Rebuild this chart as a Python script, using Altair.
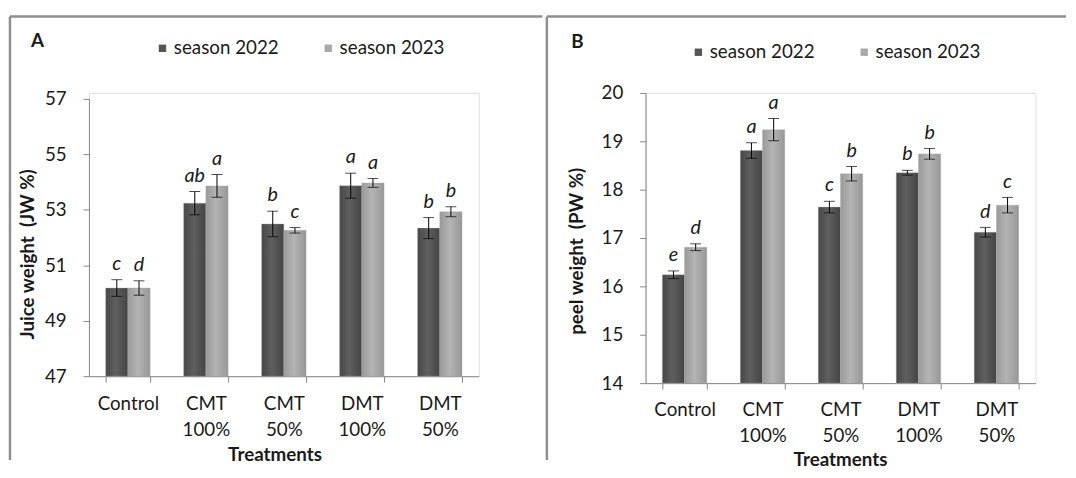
import altair as alt
import pandas as pd

treatments = ["Control", "CMT 100%", "CMT 50%", "DMT 100%", "DMT 50%"]
seasons = ["season 2022", "season 2023"]

# Panel A: juice weight (JW %)
jw_2022 = [50.18, 53.24, 52.49, 53.87, 52.34]
jw_2022_err = [0.30, 0.42, 0.46, 0.45, 0.38]
jw_2022_letters = ["c", "ab", "b", "a", "b"]
jw_2023 = [50.18, 53.86, 52.26, 53.97, 52.93]
jw_2023_err = [0.26, 0.41, 0.10, 0.16, 0.18]
jw_2023_letters = ["d", "a", "c", "a", "b"]
jw_ticks = [47, 49, 51, 53, 55, 57]

# Panel B: peel weight (PW %)
pw_2022 = [16.24, 18.81, 17.64, 18.35, 17.12]
pw_2022_err = [0.08, 0.16, 0.12, 0.05, 0.10]
pw_2022_letters = ["e", "a", "c", "b", "d"]
pw_2023 = [16.81, 19.24, 18.33, 18.74, 17.68]
pw_2023_err = [0.07, 0.23, 0.15, 0.11, 0.16]
pw_2023_letters = ["d", "a", "b", "b", "c"]
pw_ticks = [14, 15, 16, 17, 18, 19, 20]

FONT = "Lato"
FRAME = "#8f8f8f"
AXIS = "#868686"
TXT = "#1a1a1a"

grad = {
    "season 2022": alt.LinearGradient(
        gradient="linear", x1=0, x2=1, y1=0, y2=0,
        stops=[alt.GradientStop(color="#474747", offset=0),
               alt.GradientStop(color="#5f5f5f", offset=0.45),
               alt.GradientStop(color="#444444", offset=1)]),
    "season 2023": alt.LinearGradient(
        gradient="linear", x1=0, x2=1, y1=0, y2=0,
        stops=[alt.GradientStop(color="#9a9a9a", offset=0),
               alt.GradientStop(color="#b4b4b4", offset=0.45),
               alt.GradientStop(color="#979797", offset=1)]),
}


def make_df(v22, e22, l22, v23, e23, l23, base):
    rows = []
    for i, t in enumerate(treatments):
        rows.append(dict(treatment=t, season=seasons[0], value=v22[i], err=e22[i], letter=l22[i], base=base))
        rows.append(dict(treatment=t, season=seasons[1], value=v23[i], err=e23[i], letter=l23[i], base=base))
    df = pd.DataFrame(rows)
    df["lo"] = df["value"] - df["err"]
    df["hi"] = df["value"] + df["err"]
    return df


def panel(df, ymin, ymax, yvals, height, rng, ytitle, ytitle_x, ytitle_y,
          xtitle_x, xtitle_y, xlabel_pad, letter, letter_x, letter_y, legend_x, legend_y,
          frame_left, frame_right, frame_top, frame_bottom):
    xaxis = alt.Axis(
        title="Treatments", labelAngle=0, labelExpr="split(datum.label, ' ')",
        labelBaseline="top", labelPadding=xlabel_pad, labelLineHeight=26, labelFontSize=19,
        labelFont=FONT, labelColor=TXT, tickBand="extent", tickSize=6,
        tickColor=AXIS, domainColor=AXIS, titleFont=FONT, titleFontSize=19,
        titleFontWeight="bold", titleColor=TXT, titleX=xtitle_x, titleY=xtitle_y,
        titleBaseline="middle", titleAlign="center")
    x = alt.X("treatment:N", sort=treatments, title="Treatments",
              scale=alt.Scale(paddingInner=0.43, paddingOuter=0.215), axis=xaxis)
    xo = alt.XOffset("season:N", sort=seasons, scale=alt.Scale(paddingInner=0, paddingOuter=0))
    yaxis = alt.Axis(
        title=ytitle, values=yvals, grid=False, tickSize=6, tickColor=AXIS,
        domainColor=AXIS, labelFontSize=19, labelFont=FONT, labelColor=TXT,
        labelPadding=17, titleFont=FONT, titleFontSize=19, titleFontWeight="bold",
        titleColor=TXT, titleX=ytitle_x, titleY=ytitle_y, titleAngle=270,
        titleBaseline="middle", titleAlign="center")
    yscale = alt.Scale(domain=[ymin, ymax], range=rng, zero=False, nice=False)

    def Y(field):
        return alt.Y(field, scale=yscale, axis=yaxis, title=ytitle)

    base = alt.Chart(df)
    layers = []
    for s in seasons:
        layers.append(
            base.transform_filter(alt.datum.season == s)
            .mark_bar(color=grad[s], stroke="#a8a8a8", strokeWidth=0.6, strokeOpacity=0.6)
            .encode(x=x, xOffset=xo, y=Y("value:Q"), y2="base:Q"))
    layers.append(
        base.mark_square(opacity=0).encode(
            x=x, xOffset=xo, y=Y("value:Q"),
            color=alt.Color("season:N",
                            scale=alt.Scale(domain=seasons, range=["#555555", "#a9a9a9"]),
                            legend=alt.Legend(
                                orient="none", legendX=legend_x, legendY=legend_y,
                                direction="horizontal", title=None, symbolType="square",
                                symbolSize=56, symbolOpacity=1, symbolStrokeWidth=0,
                                labelFontSize=19, labelFont=FONT, labelColor=TXT,
                                labelOffset=2, columnPadding=40))))
    layers.append(base.mark_rule(color="black", strokeWidth=1).encode(
        x=x, xOffset=xo, y=Y("lo:Q"), y2="hi:Q"))
    layers.append(base.mark_tick(color="black", thickness=1, size=11).encode(
        x=x, xOffset=xo, y=Y("lo:Q")))
    layers.append(base.mark_tick(color="black", thickness=1, size=11).encode(
        x=x, xOffset=xo, y=Y("hi:Q")))
    layers.append(base.mark_text(font=FONT, fontSize=20, fontStyle="italic", color=TXT,
                                 baseline="alphabetic", dy=-10).encode(
        x=x, xOffset=xo, y=Y("hi:Q"), text="letter:N"))

    one = alt.Chart(pd.DataFrame({"k": [0]}))
    layers.append(one.mark_text(text=letter, font=FONT, fontSize=19, fontWeight="bold",
                                color=TXT, baseline="middle", align="center").encode(
        x=alt.value(letter_x), y=alt.value(letter_y)))
    layers.append(one.mark_rule(color=FRAME, strokeWidth=2.5).encode(
        x=alt.value(frame_left), y=alt.value(frame_top), y2=alt.value(frame_bottom)))
    layers.append(one.mark_rule(color=FRAME, strokeWidth=2.5).encode(
        x=alt.value(frame_left), x2=alt.value(frame_right), y=alt.value(frame_top)))
    return alt.layer(*layers).properties(width=395, height=height)


dfA = make_df(jw_2022, jw_2022_err, jw_2022_letters, jw_2023, jw_2023_err, jw_2023_letters, 47)
dfB = make_df(pw_2022, pw_2022_err, pw_2022_letters, pw_2023, pw_2023_err, pw_2023_letters, 14)

panelA = panel(dfA, 47, 57, jw_ticks, 287, [287, 6], "Juice weight\u00a0 (JW %)", -62, 163,
               188, 79, 13, "A", -52, -53, 65, -55,
               -80, 459.5, -77.5, 372)
panelB = panel(dfB, 14, 20, pw_ticks, 294, [294, 0], "peel weight\u00a0 (PW %)", -70, 160,
               197, 77, 12, "B", -69, -52, 44, -51,
               -100, 426, -77.5, 372)

chart = alt.hconcat(panelA, panelB, spacing=0).resolve_scale(
    color="independent").properties(
    padding={"left": 0, "top": 3, "right": 0, "bottom": 0}
).configure_view(stroke=None).configure(font=FONT)

chart.save("out.html", embed_options={"renderer": "svg", "actions": False})
